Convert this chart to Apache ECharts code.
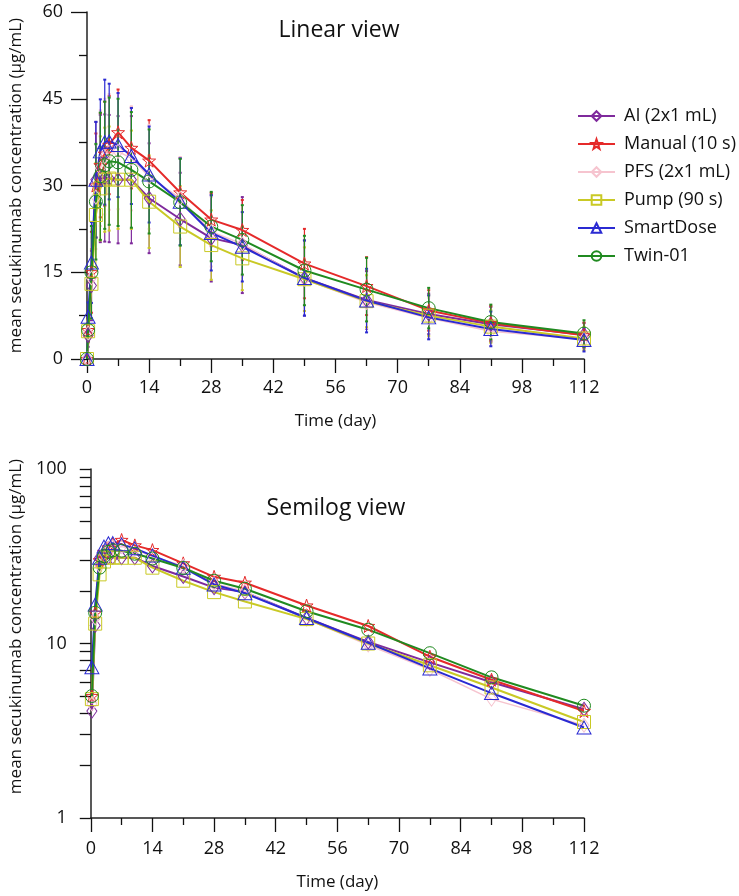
<!DOCTYPE html>
<html><head><meta charset="utf-8">
<script src="https://cdn.jsdelivr.net/npm/echarts@6/dist/echarts.min.js"></script>
<style>html,body{margin:0;padding:0;background:#fff}#c{width:739px;height:896px}</style>
</head><body><div id="c"></div><script>
// ---- data ----
const times = [0, 0.25, 1, 2, 3, 4, 5, 7, 10, 14, 21, 28, 35, 49, 63, 77, 91, 112];
const seriesNames = ['AI (2x1 mL)', 'Manual (10 s)', 'PFS (2x1 mL)', 'Pump (90 s)', 'SmartDose', 'Twin-01'];
const aiMean     = [0, 4.1, 12.7, 31.0, 31.2, 31.3, 31.2, 31.0, 31.0, 27.8, 24.2, 20.9, 19.7, 14.0, 10.2, 7.8, 6.0, 4.2];
const manualMean = [0, 5.0, 15.0, 30.0, 33.5, 35.5, 37.0, 39.2, 36.5, 34.3, 28.8, 24.1, 22.3, 16.5, 12.6, 8.4, 6.2, 4.1];
const pfsMean    = [0, 4.5, 14.0, 28.0, 33.0, 35.0, 35.8, 35.9, 34.7, 31.5, 27.8, 22.0, 19.9, 13.8, 9.8, 7.1, 4.8, 3.4];
const pumpMean   = [0, 4.8, 13.0, 24.9, 29.5, 31.0, 31.2, 31.0, 31.0, 27.2, 22.9, 19.7, 17.4, 13.8, 10.0, 7.5, 5.6, 3.55];
const smartMean  = [0, 7.3, 16.7, 31.0, 35.9, 37.5, 37.6, 37.0, 35.1, 31.9, 27.2, 21.8, 19.4, 14.0, 10.1, 7.2, 5.2, 3.3];
const twinMean   = [0, 5.0, 15.0, 27.2, 31.6, 33.5, 34.2, 34.0, 32.7, 30.7, 27.1, 22.9, 20.6, 15.3, 12.0, 8.8, 6.4, 4.4];
// standard deviations (linear view error bars)
const aiSD     = [0, 2, 6, 10, 11, 11, 11, 11, 11, 9.5, 8, 7.5, 8.3, 6.5, 5, 3.5, 3, 2];
const manualSD = [0, 2, 7, 9, 9, 9, 8.5, 7.4, 7, 7, 6, 4.6, 5.2, 6, 5, 3.5, 3, 2.2];
const pfsSD    = [0, 2, 7, 9, 10, 10, 10, 10, 9, 9, 7, 6, 5.5, 5.5, 4.5, 3.5, 2.5, 2];
const pumpSD   = [0, 2, 6, 9, 9, 9, 9, 8.5, 8.5, 8, 7, 6, 5.5, 5.5, 4.5, 3.5, 2.8, 2];
const smartSD  = [0, 2.5, 7, 10, 9, 10.8, 10, 9, 8.3, 8.3, 7.5, 6.5, 6, 6.5, 5.5, 3.8, 3, 2];
const twinSD   = [0, 2, 8, 10, 11, 11, 11, 11, 10, 9, 7.5, 6, 6, 6, 5.5, 3.5, 3, 2.3];
const xTicks = [0, 14, 28, 42, 56, 70, 84, 98, 112];
const yLinTicks = [0, 15, 30, 45, 60];
const yLogTicks = [1, 10, 100];
const yLogAllTicks = [1, 2, 3, 4, 5, 6, 7, 8, 9, 10, 20, 30, 40, 50, 60, 70, 80, 90, 100];

// ---- styles ----
const colors = ['#7f2a9c', '#e52a2a', '#f6c4cf', '#c9c925', '#2a2ad2', '#208a20'];
const STAR = 'path://M0,-10L2.35,-3.24L9.51,-3.09L3.8,1.24L5.88,8.09L0,4L-5.88,8.09L-3.8,1.24L-9.51,-3.09L-2.35,-3.24Z';
const DIAMOND = 'path://M0,-10L7,0L0,10L-7,0Z';
const RECT = 'path://M-10,-10L10,-10L10,10L-10,10Z';
const TRI = 'path://M0,-10L10,8L-10,8Z';
const CIRC = 'circle';
const symbols = [DIAMOND, STAR, DIAMOND, RECT, TRI, CIRC];
const symSizes = [[10, 14], [13, 13], [10, 14], [13, 13], [14, 13], [13, 13]];
const means = [aiMean, manualMean, pfsMean, pumpMean, smartMean, twinMean];
const sds = [aiSD, manualSD, pfsSD, pumpSD, smartSD, twinSD];
const FONT = 'Open Sans';

const series = [];
// error bars (linear view)
means.forEach((m, k) => {
  const c = colors[k];
  series.push({
    type: 'custom', xAxisIndex: 0, yAxisIndex: 0, silent: true, z: 1,
    data: times.map((t, i) => [t, m[i] - sds[k][i], m[i] + sds[k][i]]).filter((d, i) => sds[k][i] > 0),
    encode: {x: 0, y: [1, 2]},
    renderItem(params, api) {
      const x = api.value(0), lo = api.value(1), hi = api.value(2);
      const a = api.coord([x, lo]), b = api.coord([x, hi]);
      return {type: 'group', children: [
        {type: 'line', shape: {x1: a[0], y1: a[1], x2: b[0], y2: b[1]}, style: {stroke: c, lineWidth: 1.2}},
        {type: 'line', shape: {x1: a[0] - 1.5, y1: a[1], x2: a[0] + 1.5, y2: a[1]}, style: {stroke: c, lineWidth: 2}},
        {type: 'line', shape: {x1: b[0] - 1.5, y1: b[1], x2: b[0] + 1.5, y2: b[1]}, style: {stroke: c, lineWidth: 2}}
      ]};
    }
  });
});
// lines, linear view
means.forEach((m, k) => {
  series.push({
    name: seriesNames[k], type: 'line', xAxisIndex: 0, yAxisIndex: 0, z: 3,
    data: times.map((t, i) => [t, m[i]]),
    symbol: symbols[k], symbolSize: symSizes[k], showAllSymbol: true,
    lineStyle: {color: colors[k], width: k === 2 ? 1.5 : 2},
    itemStyle: {color: 'rgba(0,0,0,0)', borderColor: colors[k], borderWidth: 1},
    emphasis: {disabled: true}
  });
});
// lines, semilog view
means.forEach((m, k) => {
  series.push({
    name: seriesNames[k], type: 'line', xAxisIndex: 1, yAxisIndex: 1, z: 3,
    data: times.map((t, i) => [t, m[i]]).filter(d => d[1] > 0),
    symbol: symbols[k], symbolSize: symSizes[k], showAllSymbol: true,
    lineStyle: {color: colors[k], width: k === 2 ? 1.5 : 2},
    itemStyle: {color: 'rgba(0,0,0,0)', borderColor: colors[k], borderWidth: 1},
    emphasis: {disabled: true}
  });
});

const axisLineStyle = {show: true, onZero: false, lineStyle: {color: '#222', width: 1.5}};
const tickLine = {color: '#111', width: 1.3};
const labelStyle = {color: '#111', fontSize: 18, fontFamily: FONT};
function xAxis(grid) {
  return {
    type: 'value', gridIndex: grid, min: 0, max: 112, interval: 14,
    name: 'Time (day)', nameLocation: 'middle', nameGap: grid === 0 ? 54 : 56,
    nameTextStyle: {color: '#111', fontSize: 17, fontFamily: FONT},
    axisLine: axisLineStyle, splitLine: {show: false},
    axisTick: {show: true, length: 14, lineStyle: tickLine},
    minorTick: {show: true, splitNumber: 2, length: 7, lineStyle: tickLine},
    axisLabel: Object.assign({margin: grid === 0 ? 20 : 22, customValues: xTicks}, labelStyle)
  };
}
const chart = echarts.init(document.getElementById('c'), null, {renderer: 'canvas'});
chart.setOption({
  animation: false,
  backgroundColor: '#fff',
  graphic: [
    {type: 'text', x: 339, y: 30, style: {text: 'Linear view', font: '23px "Open Sans"', fill: '#111', textAlign: 'center', textVerticalAlign: 'middle'}},
    {type: 'text', x: 336, y: 508, style: {text: 'Semilog view', font: '23px "Open Sans"', fill: '#111', textAlign: 'center', textVerticalAlign: 'middle'}}
  ],
  legend: {
    data: seriesNames, orient: 'vertical', left: 577, top: 107, padding: 0,
    itemWidth: 37, itemHeight: 12, itemGap: 10,
    textStyle: {color: '#111', fontSize: 18, lineHeight: 18, fontFamily: FONT, padding: [0, 0, 0, 4]},
    selectedMode: false
  },
  grid: [
    {left: 85, top: 12, width: 499, height: 347},
    {left: 85, top: 469, width: 499, height: 349}
  ],
  xAxis: [xAxis(0), xAxis(1)],
  yAxis: [
    {
      type: 'value', gridIndex: 0, min: 0, max: 60, interval: 15, position: 'left',
      name: 'mean secukinumab concentration (μg/mL)', nameLocation: 'middle', nameGap: 62,
      nameTextStyle: {color: '#111', fontSize: 17, fontFamily: FONT},
      axisLine: axisLineStyle, splitLine: {show: false},
      axisTick: {show: true, inside: false, length: 16, lineStyle: tickLine},
      minorTick: {show: true, splitNumber: 2, length: 8, lineStyle: tickLine},
      axisLabel: Object.assign({margin: 24, customValues: yLinTicks}, labelStyle)
    },
    {
      type: 'log', gridIndex: 1, min: 1, max: 100, logBase: 10, position: 'left',
      name: 'mean secukinumab concentration (μg/mL)', nameLocation: 'middle', nameGap: 62,
      nameTextStyle: {color: '#111', fontSize: 17, fontFamily: FONT, padding: [0, 0, 0, 34]},
      axisLine: axisLineStyle, splitLine: {show: false},
      axisTick: {show: true, inside: false, length: 11, customValues: yLogAllTicks, lineStyle: tickLine},
      axisLabel: Object.assign({margin: 24, customValues: yLogTicks}, labelStyle)
    }
  ],
  series: series
});
</script></body></html>
